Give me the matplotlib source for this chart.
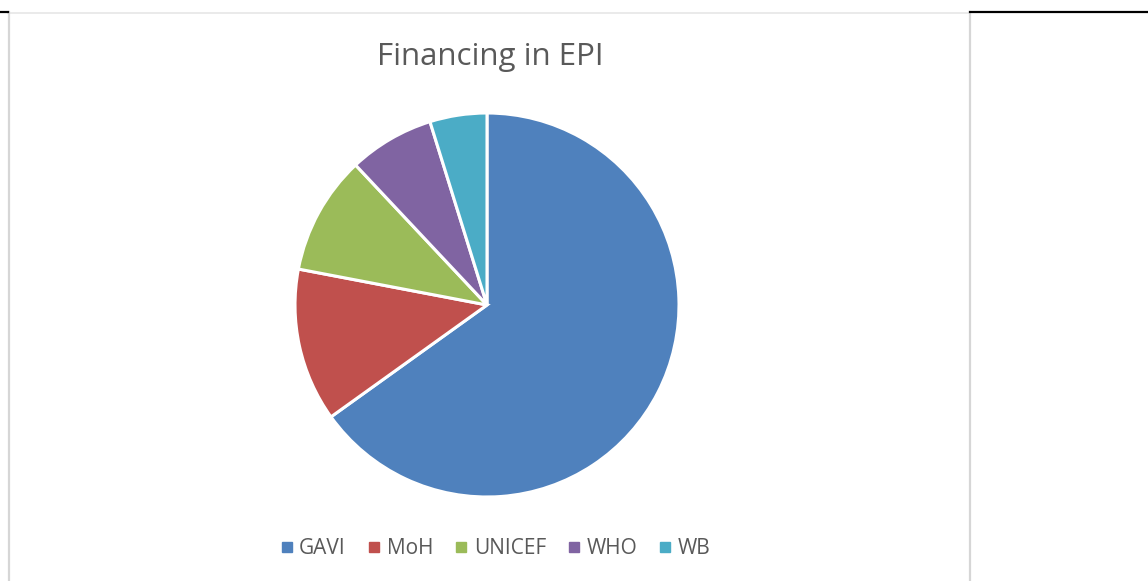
import matplotlib.pyplot as plt
from matplotlib.lines import Line2D

# shares of EPI financing
sources = ["GAVI", "MoH", "UNICEF", "WHO", "WB"]
shares = [65.1, 12.9, 10.0, 7.2, 4.8]
colors = ["#4F81BD", "#C0504D", "#9BBB59", "#8064A2", "#4BACC6"]

W, H = 1148, 581
fig = plt.figure(figsize=(W / 100, H / 100), dpi=100)
fig.patch.set_facecolor("white")

# pie: center ~ (487, 305) px, radius ~192 px
cx, cy, r = 487, 305, 192
ax = fig.add_axes([(cx - r) / W, 1 - (cy + r) / H, 2 * r / W, 2 * r / H])
ax.pie(shares, colors=colors, startangle=90, counterclock=False,
       wedgeprops=dict(edgecolor="white", linewidth=2.2))
ax.set_aspect("equal")
ax.set_xlim(-1, 1)
ax.set_ylim(-1, 1)
ax.axis("off")

fig.text(490 / W, 1 - 57 / H, "Financing in EPI", ha="center", va="center",
         fontsize=22.5, color="#595959", family="Open Sans")

handles = [Line2D([], [], marker="s", linestyle="none", markersize=6.5,
                  markerfacecolor=c, markeredgecolor=c) for c in colors]
fig.legend(handles, sources, loc="center", bbox_to_anchor=(494 / W, 1 - 549 / H),
           ncol=5, frameon=False, handletextpad=0.15, columnspacing=0.9,
           handlelength=0.9, prop=dict(family="Open Sans", size=15),
           labelcolor="#595959")

# table borders around the chart
def hline(x0, x1, y, color, lw):
    fig.add_artist(Line2D([x0 / W, x1 / W], [1 - y / H, 1 - y / H], color=color, lw=lw))

def vline(x, y0, y1, color, lw):
    fig.add_artist(Line2D([x / W, x / W], [1 - y0 / H, 1 - y1 / H], color=color, lw=lw))

hline(8, 970, 12.5, "#e6e6e6", 1.2)
vline(8.8, 12, H, "#d6d6d6", 1.6)
vline(969.5, 12, H, "#d6d6d6", 1.6)
hline(0, 8, 11.5, "black", 1.6)
hline(970, W, 11.5, "black", 1.6)

fig.savefig("out.png", dpi=100)
